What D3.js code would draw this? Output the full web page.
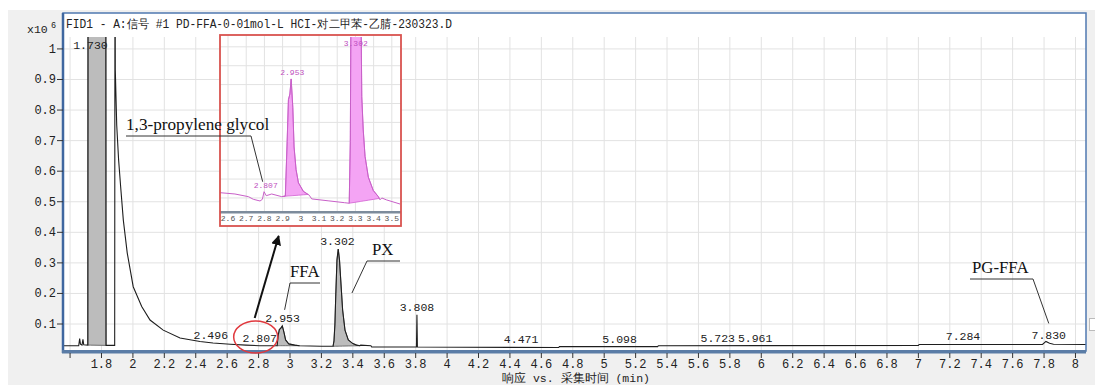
<!DOCTYPE html>
<html>
<head>
<meta charset="utf-8">
<script src="https://cdn.jsdelivr.net/npm/d3@7"></script>
<style>
  body { margin: 0; background: #fff; }
  .mono { font-family: "Liberation Mono", "DejaVu Sans Mono", monospace; }
  .serif { font-family: "Liberation Serif", "DejaVu Serif", serif; }
</style>
</head>
<body>
<div id="chart"></div>
<script>
// main FID trace, retention time (min) and response (x10^6)
var traceTime = [1.555, 1.655, 1.661, 1.666, 1.676, 1.682, 1.687, 1.713, 1.715, 1.730, 1.827, 1.829,
  1.884, 1.886, 1.888, 1.897, 1.909, 1.922, 1.939, 1.964, 2.002, 2.056, 2.109, 2.193, 2.300, 2.427,
  2.510, 2.620, 2.720, 2.807, 2.890, 2.918, 2.924, 2.932, 2.941, 2.951, 2.962, 2.972, 2.992, 3.030,
  3.060, 3.200, 3.274, 3.280, 3.286, 3.291, 3.299, 3.307, 3.315, 3.323, 3.335, 3.350, 3.371, 3.400,
  3.424, 3.445, 3.450, 3.515, 3.520, 3.805, 3.808, 3.811, 4.710, 4.715, 5.340, 5.345, 7.000, 7.005,
  7.790, 7.812, 7.835, 7.860, 8.067];
var traceResp = [0.029, 0.029, 0.052, 0.034, 0.031, 0.050, 0.032, 0.031, 1.9, 1.95, 1.9, 0.030,
  0.030, 1.5, 0.93, 0.75, 0.637, 0.549, 0.44, 0.332, 0.222, 0.157, 0.113, 0.080, 0.054, 0.043,
  0.038, 0.034, 0.031, 0.029, 0.029, 0.029, 0.060, 0.082, 0.086, 0.094, 0.072, 0.048, 0.035, 0.031,
  0.029, 0.027, 0.027, 0.045, 0.10, 0.189, 0.31, 0.345, 0.31, 0.244, 0.146, 0.080, 0.048, 0.036,
  0.031, 0.029, 0.031, 0.029, 0.025, 0.025, 0.130, 0.025, 0.023, 0.026, 0.026, 0.029, 0.030, 0.033,
  0.033, 0.043, 0.037, 0.034, 0.033];

var peakTimes = [1.730, 2.496, 2.807, 2.953, 3.302, 3.808, 4.471, 5.098, 5.723, 5.961, 7.284, 7.830];
var peakLabels = ["1.730", "2.496", "2.807", "2.953", "3.302", "3.808", "4.471", "5.098", "5.723", "5.961", "7.284", "7.830"];
var filledPeaks = [[1.713, 1.829], [2.918, 3.060], [3.274, 3.445]];

// zoomed inset trace
var insetTime = [2.556, 2.638, 2.712, 2.739, 2.776, 2.789, 2.798, 2.803, 2.810, 2.840, 2.895, 2.915,
  2.925, 2.932, 2.940, 2.947, 2.956, 2.963, 2.974, 2.987, 3.014, 3.046, 3.060, 3.150, 3.240, 3.266,
  3.272, 3.277, 3.328, 3.335, 3.343, 3.353, 3.371, 3.398, 3.426, 3.435, 3.445, 3.470, 3.545];
var insetResp = [0.0328, 0.0321, 0.0307, 0.0293, 0.0284, 0.0293, 0.0333, 0.0325, 0.0312, 0.0321, 0.0307, 0.0310,
  0.060, 0.082, 0.085, 0.093, 0.078, 0.057, 0.045, 0.038, 0.0335, 0.0315, 0.0295, 0.0285, 0.0275, 0.0272,
  0.060, 0.160, 0.160, 0.0836, 0.066, 0.052, 0.041, 0.034, 0.0307, 0.0290, 0.0300, 0.0290, 0.0268];
var insetPeakTimes = [2.807, 2.953, 3.302];
var insetPeakLabels = ["2.807", "2.953", "3.302"];
var insetFilled = [[2.904, 3.040], [3.266, 3.431]];

var xTicks = [1.6, 1.8, 2, 2.2, 2.4, 2.6, 2.8, 3, 3.2, 3.4, 3.6, 3.8, 4, 4.2, 4.4, 4.6, 4.8, 5, 5.2, 5.4,
  5.6, 5.8, 6, 6.2, 6.4, 6.6, 6.8, 7, 7.2, 7.4, 7.6, 7.8, 8];
var yTicks = [0.1, 0.2, 0.3, 0.4, 0.5, 0.6, 0.7, 0.8, 0.9, 1];
var insetXTicks = [2.6, 2.7, 2.8, 2.9, 3, 3.1, 3.2, 3.3, 3.4, 3.5];
var insetYTicks = [0.03, 0.04, 0.05, 0.06, 0.07, 0.08, 0.09, 0.10, 0.11];

var noteTexts = ["1,3-propylene glycol", "FFA", "PX", "PG-FFA"];
var titleText = "FID1 - A:信号 #1 PD-FFA-0-01mol-L HCI-对二甲苯-乙腈-230323.D";
var xTitle = "响应 vs. 采集时间  (min)";

var width = 1095, height = 385;
var plot = {left: 63, right: 1086, top: 13, gridTop: 37, bottom: 351};

function pts(times, resp) {
  return times.map(function(t, i) { return [t, resp[i]]; });
}
function valueAt(data, t) {
  for (var i = 1; i < data.length; i++) {
    if (data[i][0] >= t) {
      var a = data[i - 1], b = data[i];
      return a[1] + (b[1] - a[1]) * (t - a[0]) / (b[0] - a[0]);
    }
  }
  return data[data.length - 1][1];
}
function peakMax(data, t, w) {
  var m = valueAt(data, t);
  data.forEach(function(d) { if (Math.abs(d[0] - t) <= w) m = Math.max(m, d[1]); });
  return m;
}
function fmt(d) { return String(+d.toFixed(1)); }

var trace = pts(traceTime, traceResp);
var inset = pts(insetTime, insetResp);

var svg = d3.select("#chart").append("svg")
  .attr("width", width)
  .attr("height", height);

svg.append("rect").attr("x", 8).attr("y", 10).attr("width", width - 8).attr("height", height - 10)
  .attr("fill", "#f0f0f0");
svg.append("rect").attr("x", plot.left).attr("y", plot.top)
  .attr("width", plot.right - plot.left).attr("height", plot.bottom - plot.top)
  .attr("fill", "#fff");

var x = d3.scaleLinear().domain([1.555, 8.067]).range([plot.left, plot.right]);
var y = d3.scaleLinear().domain([0.0117, 1.039]).range([plot.bottom, plot.gridTop]);

// grid
svg.append("g").selectAll("line").data(xTicks).join("line")
  .attr("x1", d => x(d)).attr("x2", d => x(d))
  .attr("y1", plot.gridTop).attr("y2", plot.bottom)
  .attr("stroke", "#e2e2e2");
svg.append("g").selectAll("line").data(yTicks).join("line")
  .attr("x1", plot.left).attr("x2", plot.right)
  .attr("y1", d => y(d)).attr("y2", d => y(d))
  .attr("stroke", "#e2e2e2");

svg.append("clipPath").attr("id", "clipMain").append("rect")
  .attr("x", plot.left).attr("y", plot.gridTop)
  .attr("width", plot.right - plot.left).attr("height", plot.bottom - plot.gridTop - 1.5);

var main = svg.append("g").attr("clip-path", "url(#clipMain)");

function areaFor(data, range, xs, ys) {
  var a = range[0], b = range[1];
  var va = valueAt(data, a), vb = valueAt(data, b);
  var seg = [[a, va]].concat(data.filter(d => d[0] > a && d[0] < b)).concat([[b, vb]]);
  return d3.area()
    .x(d => xs(d[0]))
    .y0(d => ys(va + (vb - va) * (d[0] - a) / (b - a)))
    .y1(d => ys(d[1]))(seg);
}

main.selectAll("path.fill").data(filledPeaks).join("path")
  .attr("class", "fill")
  .attr("d", d => areaFor(trace, d, x, y))
  .attr("fill", "#bcbcbc")
  .attr("stroke", "#555")
  .attr("stroke-width", 0.8);

main.append("path")
  .datum(trace)
  .attr("d", d3.line().x(d => x(d[0])).y(d => y(d[1])))
  .attr("fill", "none")
  .attr("stroke", "#1e1e1e")
  .attr("stroke-width", 1.1);

// peak labels
svg.append("g").selectAll("text").data(peakTimes).join("text")
  .attr("class", "mono")
  .attr("x", d => x(d))
  .attr("y", d => Math.max(y(peakMax(trace, d, 0.012)) - 4, 49))
  .attr("text-anchor", "middle")
  .attr("font-size", 11.5)
  .attr("fill", "#222")
  .text((d, i) => peakLabels[i]);

// frame and axes
svg.append("rect").attr("x", plot.left).attr("y", plot.top)
  .attr("width", plot.right - plot.left).attr("height", plot.bottom - plot.top)
  .attr("fill", "none").attr("stroke", "#4f78b0").attr("stroke-width", 1.5);
svg.append("line").attr("x1", plot.left).attr("x2", plot.left)
  .attr("y1", plot.top).attr("y2", plot.bottom + 2)
  .attr("stroke", "#3f67a0").attr("stroke-width", 2.5);
svg.append("rect").attr("x", plot.left - 1).attr("y", plot.bottom - 1)
  .attr("width", plot.right - plot.left + 1).attr("height", 3.5)
  .attr("fill", "#5a7ca6");

svg.append("g").selectAll("line").data(xTicks).join("line")
  .attr("x1", d => x(d)).attr("x2", d => x(d))
  .attr("y1", plot.bottom + 2).attr("y2", plot.bottom + 7)
  .attr("stroke", "#333");
svg.append("g").selectAll("text").data(xTicks.filter(d => d > 1.7)).join("text")
  .attr("class", "mono")
  .attr("x", d => x(d)).attr("y", 368)
  .attr("text-anchor", "middle").attr("font-size", 12).attr("fill", "#222")
  .text(fmt);

svg.append("g").selectAll("line").data(yTicks).join("line")
  .attr("x1", plot.left - 6).attr("x2", plot.left)
  .attr("y1", d => y(d)).attr("y2", d => y(d))
  .attr("stroke", "#333");
svg.append("g").selectAll("text").data(yTicks).join("text")
  .attr("class", "mono")
  .attr("x", plot.left - 7).attr("y", d => y(d) + 4)
  .attr("text-anchor", "end").attr("font-size", 12).attr("fill", "#222")
  .text(fmt);

svg.append("text").attr("class", "mono").attr("x", 27).attr("y", 33)
  .attr("font-size", 11.5).attr("fill", "#222").text("x10");
svg.append("text").attr("class", "mono").attr("x", 51).attr("y", 28)
  .attr("font-size", 8.5).attr("fill", "#222").text("6");

svg.append("text").attr("class", "mono").attr("x", 66).attr("y", 28)
  .attr("font-size", 12).attr("fill", "#222")
  .attr("textLength", 386).attr("lengthAdjust", "spacingAndGlyphs")
  .text(titleText);

svg.append("text").attr("class", "mono").attr("x", 576).attr("y", 382)
  .attr("text-anchor", "middle").attr("font-size", 11.5).attr("fill", "#222")
  .text(xTitle);

svg.append("rect").attr("x", 1089.5).attr("y", 318.5).attr("width", 6).attr("height", 12)
  .attr("fill", "#fff").attr("stroke", "#bbb");

// inset
var inBox = {left: 220, right: 401, top: 35, bottom: 226, axis: 211};
var ix = d3.scaleLinear().domain([2.556, 3.545]).range([inBox.left, inBox.right - 1]);
var iy = d3.scaleLinear().domain([0.0231, 0.1152]).range([inBox.axis, inBox.top + 2]);

var ins = svg.append("g");
ins.append("rect").attr("x", inBox.left).attr("y", inBox.top)
  .attr("width", inBox.right - inBox.left).attr("height", inBox.bottom - inBox.top)
  .attr("fill", "#fff");
ins.append("g").selectAll("line").data(insetXTicks).join("line")
  .attr("x1", d => ix(d)).attr("x2", d => ix(d))
  .attr("y1", inBox.top).attr("y2", inBox.axis)
  .attr("stroke", "#e2e2e2");
ins.append("g").selectAll("line").data(insetYTicks).join("line")
  .attr("x1", inBox.left).attr("x2", inBox.right)
  .attr("y1", d => iy(d)).attr("y2", d => iy(d))
  .attr("stroke", "#e2e2e2");

svg.append("clipPath").attr("id", "clipInset").append("rect")
  .attr("x", inBox.left).attr("y", inBox.top + 2)
  .attr("width", inBox.right - inBox.left).attr("height", inBox.axis - inBox.top - 3);
var insPlot = ins.append("g").attr("clip-path", "url(#clipInset)");

insPlot.selectAll("path.fill").data(insetFilled).join("path")
  .attr("class", "fill")
  .attr("d", d => areaFor(inset, d, ix, iy))
  .attr("fill", "#f4a4f4")
  .attr("stroke", "#d060d0")
  .attr("stroke-width", 0.8);
insPlot.append("path")
  .datum(inset)
  .attr("d", d3.line().x(d => ix(d[0])).y(d => iy(d[1])))
  .attr("fill", "none")
  .attr("stroke", "#c860c8")
  .attr("stroke-width", 1);

ins.selectAll("text.pk").data(insetPeakTimes).join("text")
  .attr("class", "pk mono")
  .attr("x", d => ix(d))
  .attr("y", d => Math.max(iy(peakMax(inset, d, 0.01)) - 4, 46))
  .attr("text-anchor", "middle").attr("font-size", 8).attr("fill", "#c050c0")
  .text((d, i) => insetPeakLabels[i]);

ins.append("rect").attr("x", inBox.left).attr("y", inBox.axis)
  .attr("width", inBox.right - inBox.left).attr("height", 2.5)
  .attr("fill", "#7d8c9c");
ins.append("g").selectAll("text").data(insetXTicks).join("text")
  .attr("class", "mono")
  .attr("x", d => ix(d)).attr("y", 221)
  .attr("text-anchor", "middle").attr("font-size", 8).attr("fill", "#555")
  .text(fmt);
ins.append("rect").attr("x", inBox.left).attr("y", inBox.top)
  .attr("width", inBox.right - inBox.left).attr("height", inBox.bottom - inBox.top)
  .attr("fill", "none").attr("stroke", "#d9534f").attr("stroke-width", 1.8);

// annotations: underline, then leader from its end to the peak
var noteLayout = [
  {tx: 126, ty: 130, ux1: 126, ux2: 251, uy: 136, from: [251, 136],
   to: [ix(2.807) - 3, iy(peakMax(inset, 2.807, 0.01)) - 10]},
  {tx: 290, ty: 277, ux1: 290, ux2: 320, uy: 283, from: [290, 283],
   to: [x(2.953) + 2, y(peakMax(trace, 2.953, 0.012)) - 16]},
  {tx: 372, ty: 255, ux1: 367, ux2: 400, uy: 261, from: [367, 261],
   to: [x(3.302) + 14.5, 293]},
  {tx: 972, ty: 273, ux1: 970, ux2: 1033, uy: 279, from: [1033, 279],
   to: [x(7.830), y(peakMax(trace, 7.83, 0.03)) - 18]}
];
noteTexts.forEach(function(t, i) {
  var n = noteLayout[i];
  svg.append("text").attr("class", "serif")
    .attr("x", n.tx).attr("y", n.ty)
    .attr("font-size", i === 0 ? 17.2 : 16.8).attr("fill", "#111")
    .text(t);
  svg.append("line")
    .attr("x1", n.ux1).attr("x2", n.ux2).attr("y1", n.uy).attr("y2", n.uy)
    .attr("stroke", "#333").attr("stroke-width", 1);
  svg.append("line")
    .attr("x1", n.from[0]).attr("y1", n.from[1]).attr("x2", n.to[0]).attr("y2", n.to[1])
    .attr("stroke", "#333").attr("stroke-width", 1);
});

// circle + arrow pointing to inset
svg.append("ellipse")
  .attr("cx", x(2.807) - 4).attr("cy", 337).attr("rx", 22).attr("ry", 16)
  .attr("fill", "none").attr("stroke", "#e0393e").attr("stroke-width", 1.5);
svg.append("defs").append("marker")
  .attr("id", "arrow").attr("viewBox", "0 0 10 10").attr("refX", 9).attr("refY", 5)
  .attr("markerWidth", 5).attr("markerHeight", 5).attr("orient", "auto")
  .append("path").attr("d", "M0,0 L10,5 L0,10 Z").attr("fill", "#111");
svg.append("line")
  .attr("x1", x(2.807) - 5).attr("y1", 318)
  .attr("x2", x(2.807) + 19).attr("y2", 236)
  .attr("stroke", "#111").attr("stroke-width", 2)
  .attr("marker-end", "url(#arrow)");
</script>
</body>
</html>
